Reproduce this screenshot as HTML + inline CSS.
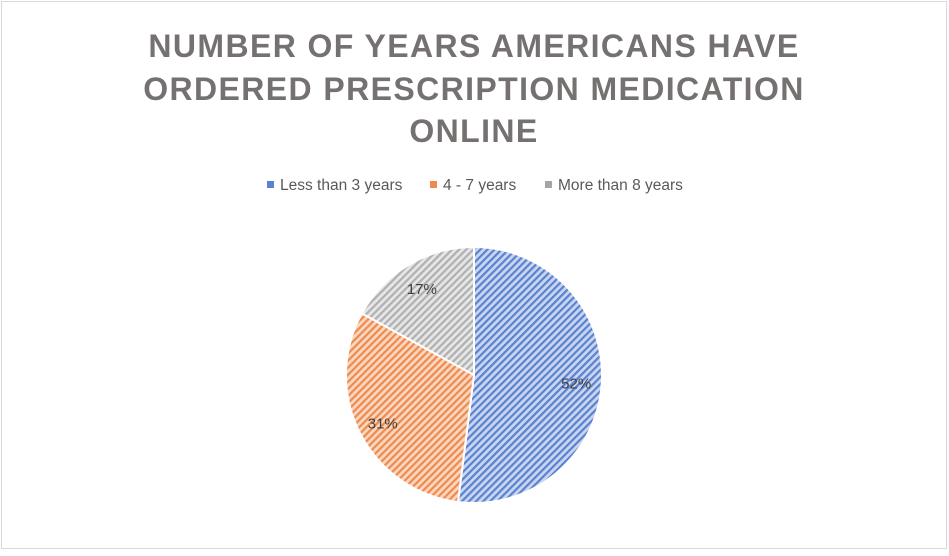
<!DOCTYPE html>
<html><head><meta charset="utf-8"><style>
html,body{margin:0;padding:0;background:#fff;}
svg{display:block;font-family:"Liberation Sans",sans-serif;}
</style></head><body>
<svg width="949" height="556" viewBox="0 0 949 556">
<defs>
<pattern id="hb" width="5" height="5" patternUnits="userSpaceOnUse" patternTransform="rotate(45)"><rect width="5" height="5" fill="#c9d6ef"/><rect width="2.2" height="5" fill="#5b82d0"/></pattern>
<pattern id="ho" width="5" height="5" patternUnits="userSpaceOnUse" patternTransform="rotate(45)"><rect width="5" height="5" fill="#fbd7c0"/><rect width="2.2" height="5" fill="#ee8a4e"/></pattern>
<pattern id="hg" width="5" height="5" patternUnits="userSpaceOnUse" patternTransform="rotate(45)"><rect width="5" height="5" fill="#e6e6e6"/><rect width="2.2" height="5" fill="#b0b0b0"/></pattern>
</defs>
<rect x="1.5" y="1.5" width="945" height="547" fill="#fff" stroke="#d9d9d9"/>
<g fill="#767171" font-weight="bold" font-size="32" text-anchor="middle" letter-spacing="1.4">
<text x="474" y="57">NUMBER OF YEARS AMERICANS HAVE</text>
<text x="474" y="100">ORDERED PRESCRIPTION MEDICATION</text>
<text x="474" y="142">ONLINE</text>
</g>
<g id="legend" font-size="15.5" fill="#595959"></g>
<g id="pie"></g>
<g id="labels" font-size="15" fill="#404040" text-anchor="middle"></g>
</svg>
<script>
const categories = ["Less than 3 years", "4 - 7 years", "More than 8 years"];
const values = [52, 31, 17];
const fills = ["url(#hb)", "url(#ho)", "url(#hg)"];
const legendColors = ["#5b82d0", "#ee8a4e", "#a5a5a5"];
const NS = "http://www.w3.org/2000/svg";
const cx = 474, cy = 375, r = 128;
const total = values.reduce((a, b) => a + b, 0);
const pie = document.getElementById('pie');
const labels = document.getElementById('labels');
let start = 0;
values.forEach((v, i) => {
  const a0 = start / total * 2 * Math.PI, a1 = (start + v) / total * 2 * Math.PI;
  start += v;
  const x0 = cx + r * Math.sin(a0), y0 = cy - r * Math.cos(a0);
  const x1 = cx + r * Math.sin(a1), y1 = cy - r * Math.cos(a1);
  const large = (a1 - a0) > Math.PI ? 1 : 0;
  const p = document.createElementNS(NS, 'path');
  p.setAttribute('d', `M${cx},${cy} L${x0},${y0} A${r},${r} 0 ${large} 1 ${x1},${y1} Z`);
  p.setAttribute('fill', fills[i]);
  p.setAttribute('stroke', '#fff');
  p.setAttribute('stroke-width', '2');
  
  
  pie.appendChild(p);
  const am = (a0 + a1) / 2, lr = r * 0.8;
  const t = document.createElementNS(NS, 'text');
  t.setAttribute('x', cx + lr * Math.sin(am));
  t.setAttribute('y', cy - lr * Math.cos(am) + 7);
  t.textContent = v + '%';
  
  
  labels.appendChild(t);
});
const legend = document.getElementById('legend');
const lx = [267, 430, 545];
categories.forEach((c, i) => {
  const g = document.createElementNS(NS, 'g');
  
  
  const s = document.createElementNS(NS, 'rect');
  s.setAttribute('x', lx[i]); s.setAttribute('y', 181);
  s.setAttribute('width', 7); s.setAttribute('height', 7);
  s.setAttribute('fill', legendColors[i]);
  g.appendChild(s);
  const t = document.createElementNS(NS, 'text');
  t.setAttribute('x', lx[i] + 13); t.setAttribute('y', 190);
  t.textContent = c;
  g.appendChild(t);
  legend.appendChild(g);
});
</script>
</body></html>
